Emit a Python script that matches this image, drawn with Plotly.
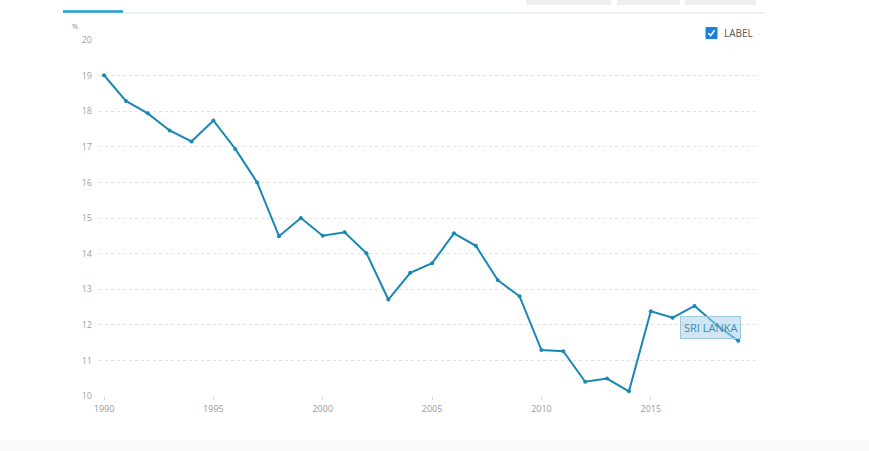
import plotly.graph_objects as go

years = list(range(1990, 2020))
values = [19.01, 18.29, 17.94, 17.46, 17.15, 17.74, 16.94, 16.00, 14.49, 15.00,
          14.50, 14.60, 14.01, 12.71, 13.46, 13.73, 14.57, 14.22, 13.26, 12.80,
          11.29, 11.26, 10.40, 10.49, 10.13, 12.38, 12.20, 12.53, 12.00, 11.55]
y_ticks = [10, 11, 12, 13, 14, 15, 16, 17, 18, 19, 20]
x_ticks = [1990, 1995, 2000, 2005, 2010, 2015]
series_name = "SRI LANKA"
line_color = "#1a87b5"

W, H = 869, 451
L, R, T, B = 99, 113, 40, 55
pw = W - L - R
ph = H - T - B


def px(xp):
    return (xp - L) / pw


def py(yp):
    return (H - B - yp) / ph


fig = go.Figure()
fig.add_trace(go.Scatter(
    x=years, y=values, mode="lines+markers", name=series_name,
    line=dict(color=line_color, width=2),
    marker=dict(size=4, color=line_color),
    hoverinfo="skip", showlegend=False,
))

fig.add_annotation(
    x=px(710), y=py(327), xref="paper", yref="paper",
    xanchor="center", yanchor="middle",
    text=series_name, showarrow=False,
    font=dict(family="Open Sans", size=11, color="#3a8bb5"),
    bgcolor="rgba(170,210,232,0.55)", bordercolor="#9cc8e0", borderwidth=1,
    borderpad=3,
)

fig.add_annotation(
    x=px(75), y=py(26), xref="paper", yref="paper",
    xanchor="center", yanchor="middle", text="%", showarrow=False,
    font=dict(family="Open Sans", size=7.5, color="#888"),
)

fig.update_layout(
    width=W, height=H,
    margin=dict(l=L, r=R, t=T, b=B),
    paper_bgcolor="white", plot_bgcolor="white",
    font=dict(family="Open Sans", size=9, color="#999"),
    xaxis=dict(
        range=[1989.77, 2019.81], tickvals=x_ticks, showgrid=False,
        zeroline=False, showline=False, ticks="outside", ticklen=3,
        tickcolor="#d8d8d8", tickfont=dict(size=9, color="#999"),
        ticklabelstandoff=1,
    ),
    yaxis=dict(
        range=[10, 20], tickvals=y_ticks, showgrid=True,
        gridcolor="#e2e2e2", griddash="dot", gridwidth=1,
        zeroline=False, showline=False, ticks="",
        tickfont=dict(size=9, color="#a0a0a0"), ticklabelstandoff=6,
    ),
)

shapes = []
shapes.append(dict(type="line", xref="paper", yref="paper",
                   x0=px(123), x1=px(765), y0=py(13), y1=py(13),
                   line=dict(color="#e6ecef", width=1.5)))
shapes.append(dict(type="line", xref="paper", yref="paper",
                   x0=px(63), x1=px(123), y0=py(11.5), y1=py(11.5),
                   line=dict(color="#1f9bd0", width=2.5)))
for bx0, bx1 in [(526, 611), (617, 680), (685, 756)]:
    shapes.append(dict(type="rect", xref="paper", yref="paper",
                       x0=px(bx0), x1=px(bx1), y0=py(5), y1=py(-2),
                       fillcolor="#eceef0", line=dict(width=0)))
shapes.append(dict(type="rect", xref="paper", yref="paper",
                   x0=px(706), x1=px(717), y0=py(38.5), y1=py(27.5),
                   fillcolor="#1a7fe0", line=dict(color="#1a7fe0", width=1)))
shapes.append(dict(type="path", xref="paper", yref="paper",
                   path=(f"M {px(708.3)} {py(33.2)} L {px(710.6)} {py(35.6)} "
                         f"L {px(714.6)} {py(30.2)}"),
                   line=dict(color="white", width=1.6)))
shapes.append(dict(type="rect", xref="paper", yref="paper",
                   x0=px(0), x1=px(880), y0=py(455), y1=py(440),
                   fillcolor="#f9f9f9", line=dict(width=0), layer="below"))
fig.update_layout(shapes=shapes)

fig.add_annotation(
    x=px(721.5), y=py(32.5), xref="paper", yref="paper",
    xanchor="left", yanchor="middle", text="LABEL", showarrow=False,
    font=dict(family="Open Sans", size=10, color="#555"),
)

fig.write_html(
    "out.html",
    config={"displayModeBar": False},
    post_script="document.body.style.margin='0';document.body.style.overflow='hidden';",
)
